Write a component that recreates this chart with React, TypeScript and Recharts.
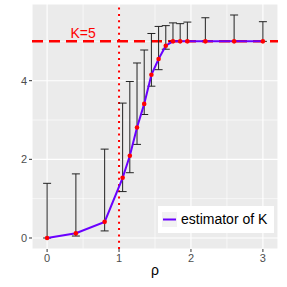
import React from 'react';
import { ComposedChart, Line, ErrorBar, XAxis, YAxis, CartesianGrid, ReferenceLine, ReferenceDot, Legend } from 'recharts';

// rho values, estimator of K and the error bar limits
const rho = [0, 0.4, 0.8, 1.05, 1.15, 1.25, 1.35, 1.45, 1.55, 1.65, 1.75, 1.85, 1.95, 2.2, 2.6, 3.0];
const khat = [0, 0.12, 0.41, 1.53, 2.09, 2.81, 3.41, 4.15, 4.55, 4.89, 5, 5, 5, 5, 5, 5];
const lower = [0, 0.05, 0.18, 1.18, 1.66, 2.38, 3.14, 3.86, 4.28, 4.8, 5, 5, 5, 5, 5, 5];
const upper = [1.39, 1.63, 2.26, 3.43, 3.98, 4.45, 4.78, 5.2, 5.38, 5.4, 5.47, 5.45, 5.49, 5.6, 5.67, 5.5];

const xTicks = [0, 1, 2, 3];
const yTicks = [0, 2, 4];
const xMinor = [0.5, 1.5, 2.5];
const yMinor = [1, 3, 5];
const trueK = 5;
const threshold = 1;

const data = rho.map((r, i) => ({
  rho: r,
  k: khat[i],
  err: [khat[i] - lower[i], upper[i] - khat[i]],
}));

const PURPLE = '#6A00FF';

const renderLegend = () => (
  <div style={{ background: '#fff', width: 116, height: 27, display: 'flex', alignItems: 'center', boxSizing: 'border-box', paddingLeft: 4 }}>
    <svg width={15} height={15} style={{ display: 'block' }}>
      <rect x={0} y={0} width={15} height={15} fill="#F2F2F2" />
      <line x1={1} y1={7.5} x2={14} y2={7.5} stroke={PURPLE} strokeWidth={2} />
    </svg>
    <span style={{ fontSize: 14, color: '#000', marginLeft: 4, lineHeight: '15px' }}>estimator of K</span>
  </div>
);

export default function App() {
  return (
    <div style={{ position: 'absolute', left: 0, top: 0, fontFamily: '"Liberation Sans", Arial, sans-serif' }}>
      <ComposedChart width={287} height={287} data={data} margin={{ top: 4, right: 9, bottom: 0, left: 0 }}>
        <CartesianGrid fill="#EBEBEB" stroke="#fff" strokeWidth={1.1} />
        {xMinor.map((v) => (
          <ReferenceLine key={'x' + v} x={v} stroke="#fff" strokeWidth={0.6} />
        ))}
        {yMinor.map((v) => (
          <ReferenceLine key={'y' + v} y={v} stroke="#fff" strokeWidth={0.6} />
        ))}
        <XAxis
          dataKey="rho"
          type="number"
          domain={[-0.21, 3.21]}
          ticks={xTicks}
          allowDataOverflow
          height={38}
          axisLine={false}
          tickSize={3}
          tickMargin={2}
          tickLine={{ stroke: '#333' }}
          tick={{ fill: '#4D4D4D', fontSize: 11 }}
          label={{ value: 'ρ', position: 'insideBottom', offset: 12, fill: '#000', fontSize: 14 }}
        />
        <YAxis
          type="number"
          domain={[-0.28, 5.95]}
          ticks={yTicks}
          allowDataOverflow
          width={32}
          axisLine={false}
          tickSize={3}
          tickMargin={2}
          tickLine={{ stroke: '#333' }}
          tick={{ fill: '#4D4D4D', fontSize: 11 }}
        />
        <ReferenceLine y={trueK} stroke="#FF0000" strokeWidth={2.5} strokeDasharray="11 6" />
        <ReferenceLine x={threshold} stroke="#FF0000" strokeWidth={2} strokeDasharray="2 4.3" />
        <ReferenceDot
          x={0.5}
          y={5.2}
          r={0}
          fill="none"
          stroke="none"
          label={{ value: 'K=5', position: 'center', fill: '#FF0000', fontSize: 14 }}
        />
        <Line dataKey="k" stroke="none" dot={false} isAnimationActive={false} legendType="none">
          <ErrorBar dataKey="err" direction="y" width={4} stroke="#222" strokeWidth={1} />
        </Line>
        <Line
          dataKey="k"
          type="linear"
          stroke={PURPLE}
          strokeWidth={2}
          dot={{ r: 2.3, fill: '#FF0000', stroke: 'none' }}
          activeDot={false}
          isAnimationActive={false}
        />
        <Legend
          layout="horizontal"
          verticalAlign="middle"
          align="center"
          content={renderLegend}
          wrapperStyle={{ left: 158, top: 206, width: 116, height: 27 }}
        />
      </ComposedChart>
    </div>
  );
}
